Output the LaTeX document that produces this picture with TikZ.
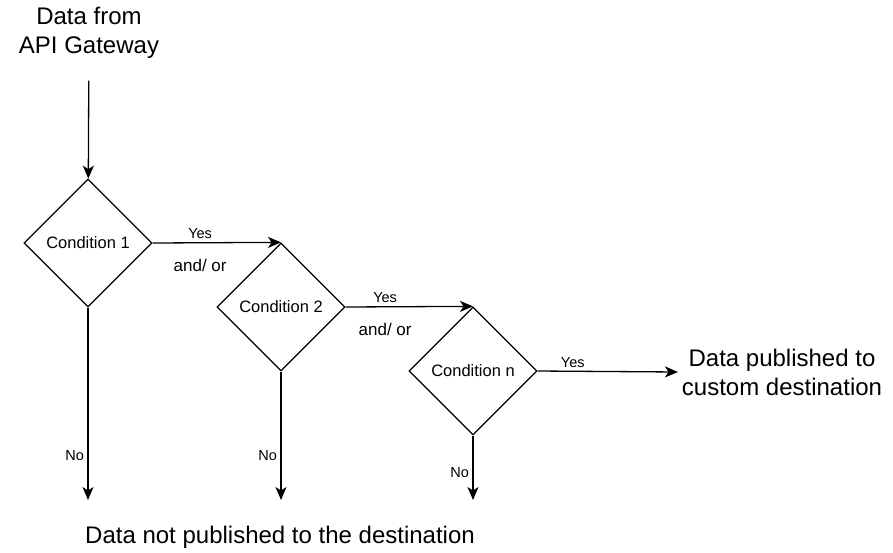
\documentclass[tikz,border=0pt]{standalone}
\usepackage{fontspec}
\setmainfont{Liberation Sans}
\usetikzlibrary{shapes.geometric,arrows.meta}

\begin{document}
\begin{tikzpicture}[x=1pt,y=-1pt,line width=1.3pt,
        every node/.style={font=\fontsize{24}{29}\selectfont,align=center},
        cond/.style={diamond,draw,aspect=1,minimum size=128pt,inner sep=0pt,font=\fontsize{16.5}{20}\selectfont},
        flow/.style={-{Stealth[length=13pt,width=11pt,inset=3.5pt]}},
        lbl/.style={font=\fontsize{14.5}{17}\selectfont},
        andor/.style={font=\fontsize{17}{20}\selectfont,below=12pt}]
        \useasboundingbox (0,0) rectangle (893,552);
        \node (src) at (89,33) {Data from\\API Gateway};
        \node[cond] (c1) at (88,243) {Condition 1};
        \node[cond] (c2) at (281,307) {Condition 2};
        \node[cond] (cn) at (473,371) {Condition n};
        \node (pub) at (782,372) {Data published to\\custom destination};
        \node (nopub) at (280,537) {Data not published to the destination};
        \coordinate (no1) at (88,500);
        \coordinate (no2) at (281,500);
        \coordinate (non) at (473,500);
        \draw[flow,shorten <=18pt] (src) -- (c1);
        \draw[flow] (c1.east) -- (c2.north)
            node[lbl,pos=.37,above]{Yes} node[andor,pos=.37]{and/ or};
        \draw[flow] (c2.east) -- (cn.north)
            node[lbl,pos=.31,above]{Yes} node[andor,pos=.31]{and/ or};
        \draw[flow] (cn.east) -- (pub.west) node[lbl,pos=.25,above]{Yes};
        \draw[flow] (c1.south) -- (no1) node[lbl,pos=.77,left]{No};
        \draw[flow] (c2.south) -- (no2) node[lbl,pos=.65,left]{No};
        \draw[flow] (cn.south) -- (non) node[lbl,pos=.57,left]{No};
\end{tikzpicture}
\end{document}
